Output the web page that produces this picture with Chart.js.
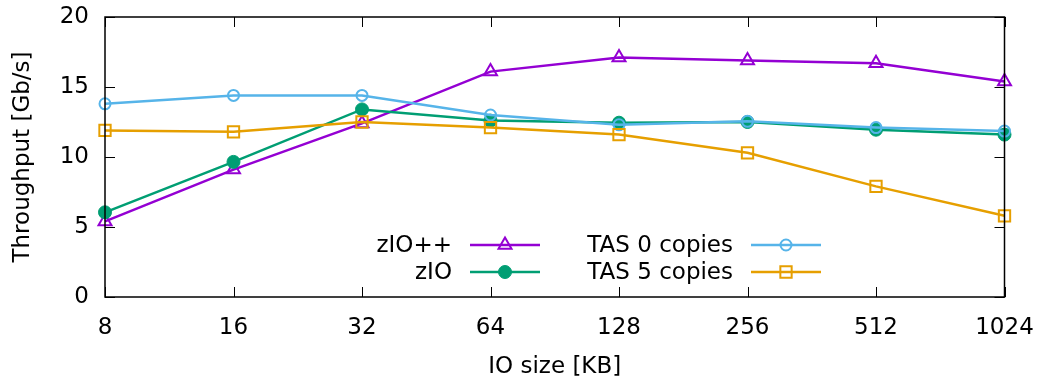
<!DOCTYPE html>
<html lang="en">
<head>
    <meta charset="UTF-8">
    <title>Throughput vs IO size</title>
    <script src="https://cdn.jsdelivr.net/npm/chart.js"></script>
    <style>
        html, body { margin: 0; padding: 0; background: #fff; }
        .chart-box { width: 1044px; height: 381px; }
    </style>
</head>
<body>
    <div class="chart-box">
        <canvas id="throughputChart"></canvas>
    </div>

    <script>
        // Data
        const ioSizes = ['8', '16', '32', '64', '128', '256', '512', '1024'];
        const zioPlusPlus = [5.4, 9.1, 12.4, 16.1, 17.1, 16.9, 16.7, 15.4];
        const zio = [6.05, 9.65, 13.4, 12.6, 12.45, 12.5, 11.95, 11.6];
        const tas0Copies = [13.8, 14.4, 14.4, 13.0, 12.3, 12.55, 12.1, 11.85];
        const tas5Copies = [11.9, 11.8, 12.5, 12.1, 11.6, 10.3, 7.9, 5.8];
        const yTicks = [0, 5, 10, 15, 20];

        const FONT = 'DejaVu Sans';
        const FONT_SIZE = 23;

        // gnuplot-like frame: box round the plot area, ticks pointing inward on all four sides
        const framePlugin = {
            id: 'frame',
            afterDatasetsDraw(chart) {
                const { ctx, chartArea: a, scales } = chart;
                const tick = 10;
                ctx.save();
                ctx.strokeStyle = '#000';
                ctx.lineWidth = 1;
                ctx.beginPath();
                scales.x.ticks.forEach((t, i) => {
                    const x = Math.round(scales.x.getPixelForTick(i)) + 0.5;
                    ctx.moveTo(x, a.bottom); ctx.lineTo(x, a.bottom - tick);
                    ctx.moveTo(x, a.top); ctx.lineTo(x, a.top + tick);
                });
                yTicks.forEach(v => {
                    const y = Math.round(scales.y.getPixelForValue(v)) + 0.5;
                    ctx.moveTo(a.left, y); ctx.lineTo(a.left + tick, y);
                    ctx.moveTo(a.right, y); ctx.lineTo(a.right - tick, y);
                });
                ctx.stroke();
                ctx.lineWidth = 1.5;
                ctx.strokeRect(a.left, a.top, a.right - a.left, a.bottom - a.top);
                ctx.restore();
            }
        };

        // Legend inside the plot: text right-aligned, then a line sample with its marker
        const keyPlugin = {
            id: 'gnuKey',
            afterDatasetsDraw(chart) {
                const { ctx, chartArea: a } = chart;
                const cols = [a.left + 347, a.left + 628];
                const rows = [a.bottom - 52, a.bottom - 25];
                ctx.save();
                ctx.font = `${FONT_SIZE}px "${FONT}"`;
                ctx.textAlign = 'right';
                ctx.textBaseline = 'middle';
                chart.data.datasets.forEach((ds, i) => {
                    const tx = cols[Math.floor(i / 2)];
                    const ty = rows[i % 2];
                    ctx.fillStyle = '#000';
                    ctx.fillText(ds.label, tx, ty + 1);
                    const x0 = tx + 18, x1 = tx + 88;
                    ctx.strokeStyle = ds.borderColor;
                    ctx.lineWidth = ds.borderWidth;
                    ctx.beginPath();
                    ctx.moveTo(x0, ty); ctx.lineTo(x1, ty);
                    ctx.stroke();
                    ctx.fillStyle = ds.pointBackgroundColor;
                    ctx.strokeStyle = ds.borderColor;
                    ctx.lineWidth = ds.pointBorderWidth;
                    Chart.helpers.drawPoint(ctx, {
                        pointStyle: ds.pointStyle,
                        radius: ds.pointRadius,
                        rotation: 0,
                        borderWidth: ds.pointBorderWidth
                    }, (x0 + x1) / 2, ty);
                });
                ctx.restore();
            }
        };

        const ctx = document.getElementById('throughputChart').getContext('2d');
        const throughputChart = new Chart(ctx, {
            type: 'line',
            data: {
                labels: ioSizes,
                datasets: [
                    {
                        label: 'zIO++',
                        data: zioPlusPlus,
                        borderColor: '#9400d3',
                        borderWidth: 2.5,
                        pointStyle: 'triangle',
                        pointRadius: 7.5,
                        pointBorderWidth: 2,
                        pointBackgroundColor: 'rgba(0,0,0,0)',
                        pointBorderColor: '#9400d3',
                        tension: 0,
                        order: 4
                    },
                    {
                        label: 'zIO',
                        data: zio,
                        borderColor: '#009e73',
                        borderWidth: 2.5,
                        pointStyle: 'circle',
                        pointRadius: 6.5,
                        pointBorderWidth: 1,
                        pointBackgroundColor: '#009e73',
                        pointBorderColor: '#009e73',
                        tension: 0,
                        order: 3
                    },
                    {
                        label: 'TAS 0 copies',
                        data: tas0Copies,
                        borderColor: '#56b4e9',
                        borderWidth: 2.5,
                        pointStyle: 'circle',
                        pointRadius: 5.5,
                        pointBorderWidth: 2,
                        pointBackgroundColor: 'rgba(0,0,0,0)',
                        pointBorderColor: '#56b4e9',
                        tension: 0,
                        order: 2
                    },
                    {
                        label: 'TAS 5 copies',
                        data: tas5Copies,
                        borderColor: '#e69f00',
                        borderWidth: 2.5,
                        pointStyle: 'rect',
                        pointRadius: 8,
                        pointBorderWidth: 2,
                        pointBackgroundColor: 'rgba(0,0,0,0)',
                        pointBorderColor: '#e69f00',
                        tension: 0,
                        order: 1
                    }
                ]
            },
            options: {
                responsive: true,
                maintainAspectRatio: false,
                animation: false,
                layout: { padding: { left: 0, right: 39.5, top: 17, bottom: 0 } },
                plugins: {
                    legend: { display: false },
                    tooltip: { enabled: false }
                },
                scales: {
                    x: {
                        offset: false,
                        grid: { display: false, drawTicks: false },
                        border: { display: false },
                        ticks: {
                            color: '#000',
                            font: { family: FONT, size: FONT_SIZE },
                            padding: 17,
                            maxRotation: 0,
                            autoSkip: false
                        },
                        title: {
                            display: true,
                            text: 'IO size [KB]',
                            color: '#000',
                            font: { family: FONT, size: FONT_SIZE },
                            padding: { top: 0, bottom: 0 }
                        },
                        afterFit(scale) {
                            scale.height = 84;
                            scale.paddingLeft = 0;
                            scale.paddingRight = 0;
                        }
                    },
                    y: {
                        min: 0,
                        max: 20,
                        grid: { display: false, drawTicks: false },
                        border: { display: false },
                        ticks: {
                            stepSize: 5,
                            color: '#000',
                            font: { family: FONT, size: FONT_SIZE },
                            padding: 16
                        },
                        title: {
                            display: true,
                            text: 'Throughput [Gb/s]',
                            color: '#000',
                            font: { family: FONT, size: FONT_SIZE },
                            padding: { top: 9, bottom: 0 }
                        },
                        afterFit(scale) {
                            scale.width = 105;
                            scale.paddingTop = 0;
                            scale.paddingBottom = 0;
                        }
                    }
                }
            },
            plugins: [framePlugin, keyPlugin]
        });
    </script>
</body>
</html>
